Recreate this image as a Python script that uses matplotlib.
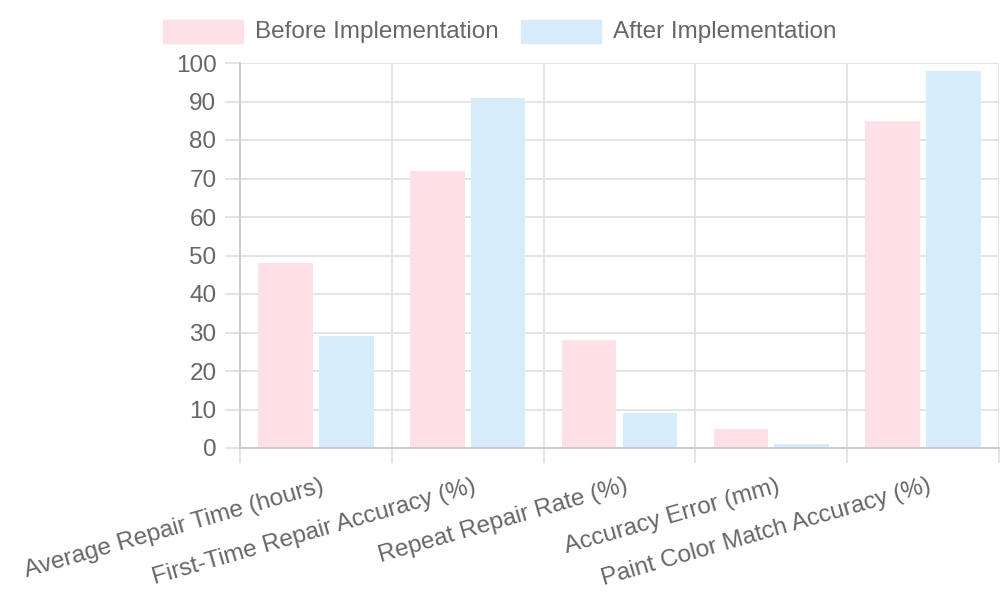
import numpy as np
import matplotlib.pyplot as plt
from matplotlib.patches import Rectangle

# ---------------- DATA ----------------
categories = [
    "Average Repair Time (hours)",
    "First-Time Repair Accuracy (%)",
    "Repeat Repair Rate (%)",
    "Accuracy Error (mm)",
    "Paint Color Match Accuracy (%)",
]
before = [48, 72, 28, 5, 85]
after = [29, 91, 9, 1, 98]
series_names = ["Before Implementation", "After Implementation"]
y_ticks = list(range(0, 101, 10))

# ---------------- STYLE ----------------
PINK = "#ffe0e6"
BLUE = "#d7ecfb"
TEXT = "#666666"
GRID = "#e2e2e2"
AXIS = "#c8c8c8"
FS = 17.5

plt.rcParams["font.family"] = ["Liberation Sans", "DejaVu Sans"]

fig = plt.figure(figsize=(10, 6), dpi=100)
ax = fig.add_axes([0.24, 1 - 448 / 600, 0.759, (448 - 63) / 600])

x = np.arange(len(categories))
slot = 0.8 / 2
bw = slot * 0.9
ax.bar(x - slot / 2, before, width=bw, color=PINK, zorder=2)
ax.bar(x + slot / 2, after, width=bw, color=BLUE, zorder=2)

ax.set_xlim(-0.5, len(categories) - 0.5)
ax.set_ylim(0, 100)

# grid: horizontal at ticks, vertical at category boundaries
for yv in y_ticks[1:]:
    ax.axhline(yv, color=GRID, lw=1.3, zorder=1)
for xb in np.arange(0.5, len(categories) - 0.5, 1.0):
    ax.axvline(xb, color=GRID, lw=1.3, zorder=1)
ax.axvline(len(categories) - 0.5, color=GRID, lw=1.3, zorder=1)

for s in ["top", "right"]:
    ax.spines[s].set_visible(False)
ax.spines["left"].set_color(AXIS)
ax.spines["bottom"].set_color(AXIS)
ax.spines["left"].set_linewidth(1.3)
ax.spines["bottom"].set_linewidth(1.3)

ax.set_yticks(y_ticks)
ax.set_yticklabels([str(v) for v in y_ticks], fontsize=FS, color=TEXT)
ax.tick_params(axis="y", length=11, color=GRID, width=1.3, pad=6)

# x ticks at category boundaries (Chart.js style), labels at centers
ax.set_xticks(np.arange(-0.5, len(categories), 1.0))
ax.set_xticklabels([])
ax.tick_params(axis="x", length=11, color=GRID, width=1.3)
for xi, lab in zip(x, categories):
    ax.text(xi + 0.03, -7.0, lab, rotation=16, rotation_mode="anchor",
            ha="right", va="top", fontsize=FS, color=TEXT)

# legend
lx = [163, 521]
for i, (name, col) in enumerate(zip(series_names, [PINK, BLUE])):
    fig.patches.append(Rectangle((lx[i] / 1000, 1 - 43 / 600), 80 / 1000, 23 / 600,
                                 transform=fig.transFigure, color=col))
    fig.text((lx[i] + 92) / 1000, 1 - 32 / 600, name, fontsize=FS, color=TEXT,
             ha="left", va="center")

fig.savefig("out.png", dpi=100)
